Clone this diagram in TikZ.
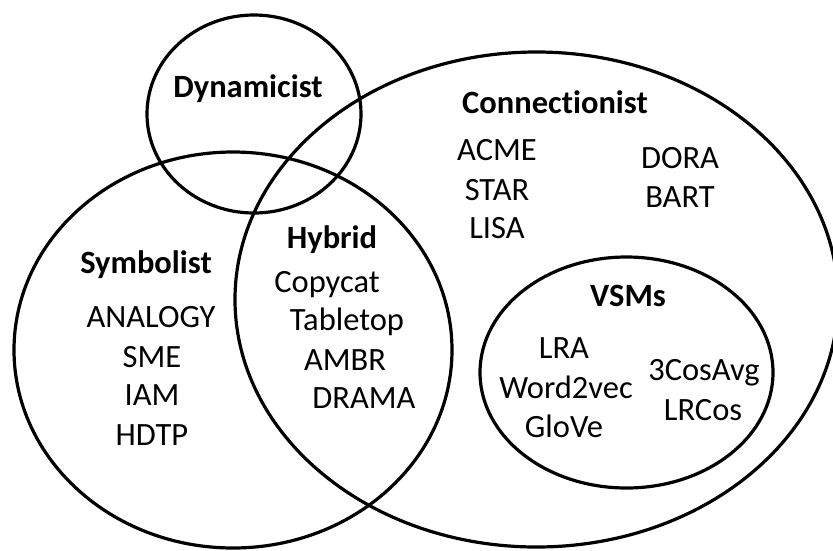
\documentclass[tikz,border=0pt]{standalone}
\usepackage{fontspec}
\setmainfont{Carlito}[Ligatures={NoCommon}]
\begin{document}
\begin{tikzpicture}[x=1pt,y=-1pt,
  setline/.style={draw=black,line width=3.2pt},
  item/.style={anchor=base,inner sep=0pt,font=\fontsize{32.5}{38}\selectfont},
  head/.style={item,font=\fontsize{32.5}{38}\selectfont\bfseries}]
\useasboundingbox (0,0) rectangle (833,550);
% the four schools and the VSM subset
\draw[setline] (254,114) ellipse [x radius=107,y radius=99];
\draw[setline] (233,350) ellipse [x radius=219,y radius=198];
\draw[setline] (536.5,299.5) ellipse [x radius=301.5,y radius=247.5];
\draw[setline] (626.5,372.5) ellipse [x radius=146.5,y radius=115.5];
% headings
\node[head] (dyn) at (248,97) {Dynamicist};
\node[head] (con) at (555,113) {Connectionist};
\node[head] (hyb) at (332,248) {Hybrid};
\node[head] (sym) at (146,273) {Symbolist};
\node[head] (vsm) at (628,306) {VSMs};
% connectionist models
\node[item] (acme) at (497,160) {ACME};
\node[item] (star) at (497,200) {STAR};
\node[item] (lisa) at (497,238) {LISA};
\node[item] (dora) at (680,168) {DORA};
\node[item] (bart) at (680,207) {BART};
% hybrid models
\node[item] (copy) at (327,292) {Copycat};
\node[item] (table) at (347,330) {Tabletop};
\node[item] (ambr) at (345,370) {AMBR};
\node[item] (drama) at (364,408) {DRAMA};
% symbolist models
\node[item] (analogy) at (151,327) {ANALOGY};
\node[item] (sme) at (152,367) {SME};
\node[item] (iam) at (152,405) {IAM};
\node[item] (hdtp) at (152,445) {HDTP};
% vector space models
\node[item] (lra) at (564,358) {LRA};
\node[item] (w2v) at (566,398) {Word2vec};
\node[item] (glove) at (564,437) {GloVe};
\node[item] (cosavg) at (704,380) {3CosAvg};
\node[item] (lrcos) at (703,420) {LRCos};
\end{tikzpicture}
\end{document}
